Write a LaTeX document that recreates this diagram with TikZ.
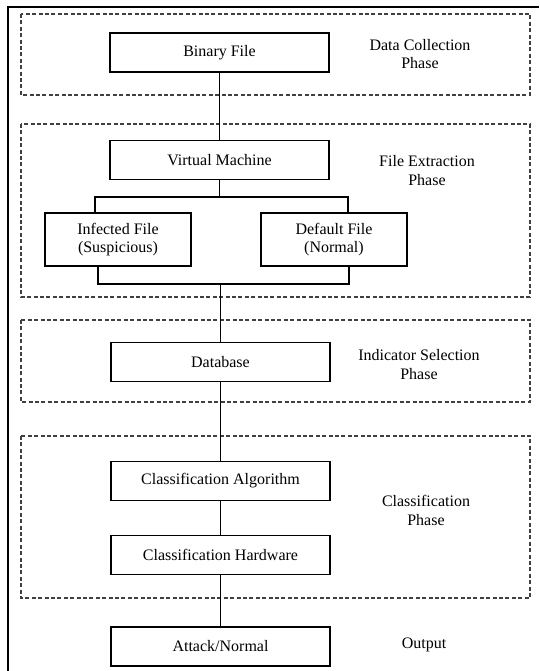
\documentclass[tikz,border=0pt]{standalone}
\usepackage{fontspec}
\setmainfont{Liberation Serif}
\usetikzlibrary{calc}

\begin{document}
\begin{tikzpicture}[
        x=0.75pt, y=-0.75pt,
        every node/.style={font=\fontsize{12}{13.8}\selectfont, text centered},
        stagebox/.style={draw, line width=0.8pt, minimum width=164.25pt,
            minimum height=29.25pt, inner sep=0pt},
        filebox/.style={stagebox, minimum width=109.5pt,
            minimum height=39.75pt, align=center},
        phasebox/.style={draw=black!75, line width=0.8pt,
            dash pattern=on 3pt off 1.8pt},
        phaselabel/.style={align=center},
        link/.style={draw, line width=0.8pt},
    ]
    \useasboundingbox (0,0) rectangle (539,671);
    % outer frame
    \draw[line width=1.6pt] (8,671) -- (8,7) -- (539,7);

    % phase frames
    \draw[phasebox] (21,14) rectangle (530,95);
    \draw[phasebox] (21,124) rectangle (530,297);
    \draw[phasebox] (21,320) rectangle (530,402);
    \draw[phasebox] (21,436) rectangle (530,598);

    % stages
    \node[stagebox] (bin) at (219.5,52.5) {Binary File};
    \node[stagebox] (vm)  at (219.5,160) {Virtual Machine};
    \node[filebox] (inf) at (118,239.5) {Infected File\\(Suspicious)};
    \node[filebox] (def) at (334,239.5) {Default File\\(Normal)};
    \node[stagebox] (db)  at (220.5,362) {Database};
    \node[stagebox] (alg) at (220.5,481) {Classification Algorithm};
    \node[stagebox] (hw)  at (220.5,555) {Classification Hardware};
    \node[stagebox] (out) at (220.5,646.5) {Attack/Normal};

    % phase names
    \node[phaselabel] (p1) at (420,54) {Data Collection\\Phase};
    \node[phaselabel] (p2) at (427,170.5) {File Extraction\\Phase};
    \node[phaselabel] (p3) at (419,364.5) {Indicator Selection\\Phase};
    \node[phaselabel] (p4) at (426,510.5) {Classification\\Phase};
    \node[phaselabel] (p5) at (424,645) {Output};

    % connectors
    \coordinate (split) at (vm.south |- 0,197);
    \coordinate (join) at (db.north |- 0,284);
    \draw[link] (bin) -- (vm);
    \draw[link] (vm) -- (split);
    \draw[link] ($(inf.north)+(-23,0)$) |- (split) -| ($(def.north)+(14,0)$);
    \draw[link] ($(inf.south)+(-20,0)$) |- (join) -| ($(def.south)+(15,0)$);
    \draw[link] (join) -- (db);
    \draw[link] (db) -- (alg);
    \draw[link] (alg) -- (hw);
    \draw[link] (hw) -- (out);
\end{tikzpicture}
\end{document}
